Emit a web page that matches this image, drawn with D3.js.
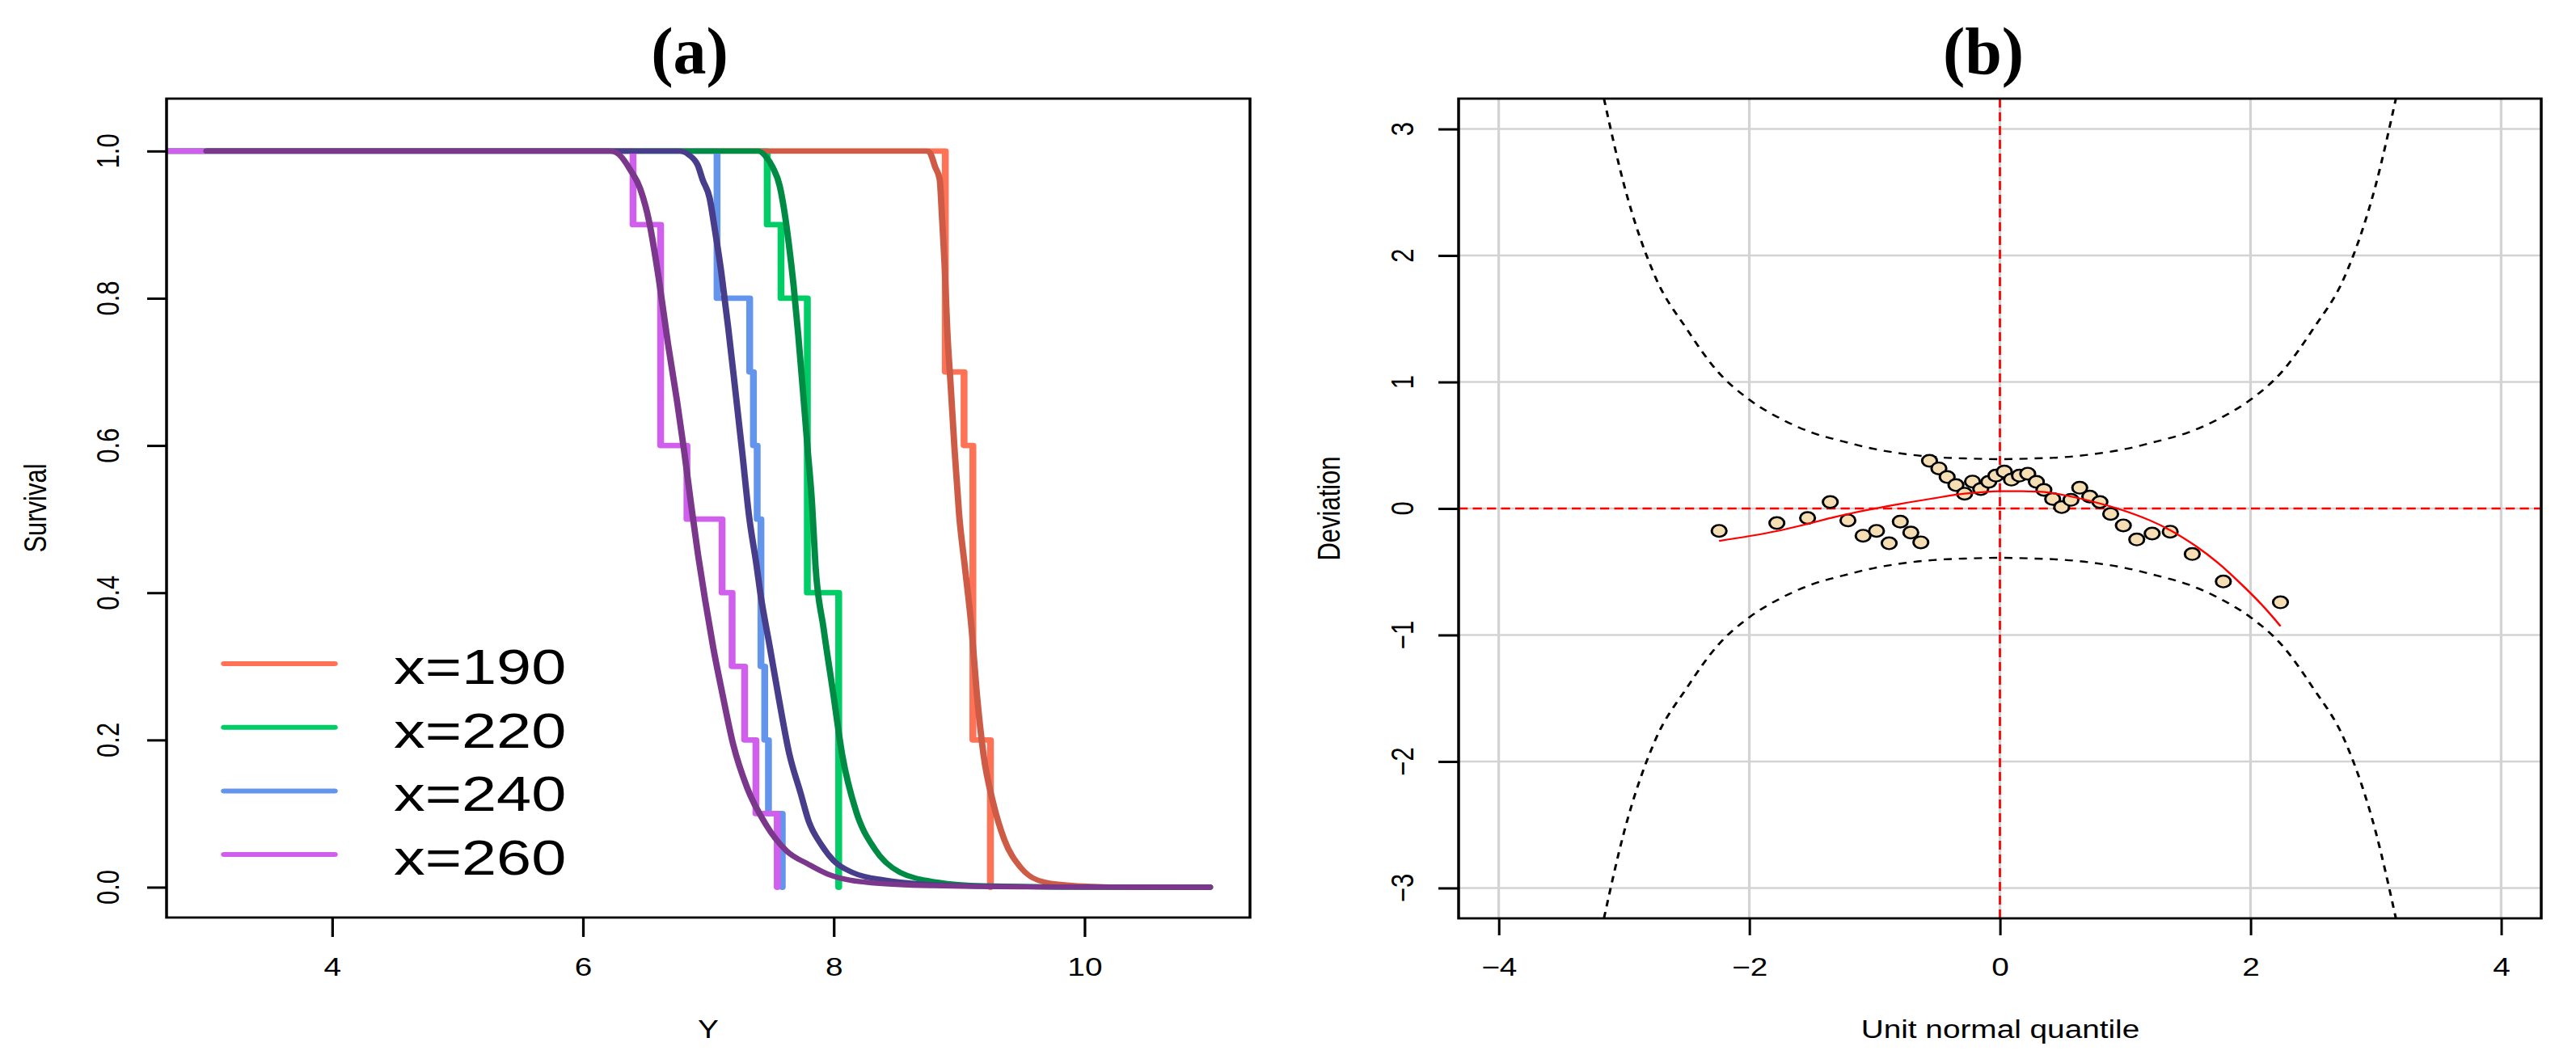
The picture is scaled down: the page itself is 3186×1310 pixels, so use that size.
<!DOCTYPE html>
<html><head><meta charset="utf-8">
<script src="https://cdn.jsdelivr.net/npm/d3@7/dist/d3.min.js"></script>
<style>html,body{margin:0;padding:0;background:#fff;}svg{display:block;}</style>
</head><body>
<script>
// ---------------- Panel (a) data ----------------
const groupLabels = ["x=190", "x=220", "x=240", "x=260"];
const stepColors = ["#FF7256", "#00CD66", "#6495ED", "#D15FEE"];
const fitColors  = ["#CD5B45", "#008B45", "#483D8B", "#7A378B"];
const kmStart = 0;
const kmTime190 = [8.89, 9.04, 9.11, 9.25];
const kmSurv190 = [0.7, 0.6, 0.2, 0.0];
const kmTime220 = [7.47, 7.58, 7.79, 8.04];
const kmSurv220 = [0.9, 0.8, 0.4, 0.0];
const kmTime240 = [7.07, 7.33, 7.36, 7.39, 7.42, 7.45, 7.48, 7.59];
const kmSurv240 = [0.8, 0.7, 0.6, 0.5, 0.3, 0.2, 0.1, 0.0];
const kmTime260 = [6.40, 6.62, 6.83, 7.11, 7.19, 7.29, 7.38, 7.55];
const kmSurv260 = [0.9, 0.6, 0.5, 0.4, 0.3, 0.2, 0.1, 0.0];

const fitY190 = [3.0, 8.75, 8.77, 8.81, 8.845, 8.865, 8.885, 8.905, 8.935, 8.965, 9.0, 9.045, 9.1, 9.14, 9.195, 9.27, 9.36, 9.49, 9.68, 9.94, 10.3, 11.0];
const fitS190 = [1, 1, 0.997, 0.978, 0.962, 0.907, 0.844, 0.76, 0.676, 0.592, 0.507, 0.437, 0.351, 0.266, 0.18, 0.116, 0.065, 0.027, 0.007, 0.002, 0.0003, 0];
const fitY220 = [3.0, 7.40, 7.457, 7.514, 7.569, 7.606, 7.643, 7.68, 7.717, 7.754, 7.79, 7.828, 7.855, 7.92, 7.994, 8.068, 8.179, 8.327, 8.53, 8.826, 9.196, 10.0, 11.0];
const fitS220 = [1, 1, 0.993, 0.978, 0.953, 0.919, 0.873, 0.818, 0.751, 0.676, 0.600, 0.52, 0.437, 0.351, 0.266, 0.180, 0.103, 0.052, 0.020, 0.007, 0.002, 0.0002, 0];
const fitY240 = [3.0, 6.77, 6.844, 6.918, 6.955, 7.011, 7.048, 7.104, 7.159, 7.215, 7.27, 7.326, 7.385, 7.414, 7.489, 7.564, 7.645, 7.736, 7.80, 7.9, 8.0, 8.15, 8.4, 9.0, 10.0, 11.0];
const fitS240 = [1, 1, 0.995, 0.980, 0.961, 0.936, 0.898, 0.835, 0.760, 0.676, 0.592, 0.503, 0.437, 0.401, 0.328, 0.255, 0.182, 0.128, 0.09, 0.058, 0.036, 0.02, 0.01, 0.002, 0.0002, 0];
const fitY260 = [3.0, 6.22, 6.29, 6.38, 6.457, 6.53, 6.605, 6.678, 6.752, 6.808, 6.863, 6.918, 6.975, 7.04, 7.11, 7.2, 7.31, 7.46, 7.62, 7.8, 7.95, 8.3, 8.8, 9.5, 11.0];
const fitS260 = [1, 1, 0.995, 0.974, 0.949, 0.903, 0.827, 0.739, 0.659, 0.592, 0.52, 0.452, 0.39, 0.325, 0.265, 0.193, 0.135, 0.085, 0.05, 0.031, 0.018, 0.006, 0.002, 0.0005, 0];

const survTicks = [0, 0.2, 0.4, 0.6, 0.8, 1.0];
const yTicks = [4, 6, 8, 10];

// ---------------- Panel (b) data ----------------
const qqX = [-2.241,-1.780,-1.535,-1.354,-1.213,-1.092,-0.985,-0.884,-0.795,-0.711,-0.631,-0.562,-0.487,-0.421,-0.351,-0.282,-0.219,-0.153,-0.089,-0.032,0.035,0.092,0.156,0.222,0.291,0.351,0.421,0.493,0.567,0.637,0.717,0.798,0.884,0.985,1.092,1.215,1.359,1.535,1.783,2.239];
const qqDev = [-0.177,-0.115,-0.075,0.051,-0.094,-0.215,-0.177,-0.275,-0.104,-0.190,-0.268,0.377,0.317,0.249,0.185,0.117,0.213,0.153,0.211,0.260,0.292,0.228,0.260,0.275,0.211,0.147,0.075,0.011,0.068,0.164,0.094,0.051,-0.043,-0.134,-0.245,-0.198,-0.183,-0.360,-0.577,-0.742];
const fitQ = [-2.241,-2.005,-1.774,-1.544,-1.313,-1.025,-0.795,-0.536,-0.334,-0.104,0,0.184,0.357,0.530,0.760,0.962,1.192,1.365,1.567,1.740,1.912,2.108,2.239];
const fitDev = [-0.256,-0.219,-0.177,-0.124,-0.066,-0.006,0.036,0.079,0.111,0.132,0.136,0.136,0.130,0.102,0.050,-0.008,-0.092,-0.175,-0.300,-0.430,-0.585,-0.780,-0.930];
const bandQ = [-3.16,-3.0,-2.75,-2.5,-2.25,-2.0,-1.75,-1.5,-1.25,-1.0,-0.75,-0.5,-0.25,0,0.25,0.5,0.75,1.0,1.25,1.5,1.75,2.0,2.25,2.5,2.75,3.0,3.16];
const bandUpper = [3.24,2.56,1.83,1.42,1.08,0.86,0.71,0.60,0.53,0.47,0.43,0.405,0.395,0.39,0.395,0.405,0.43,0.47,0.53,0.60,0.71,0.86,1.08,1.42,1.83,2.56,3.24];
const bandLower = [-3.24,-2.56,-1.83,-1.42,-1.08,-0.86,-0.71,-0.60,-0.53,-0.47,-0.43,-0.405,-0.395,-0.39,-0.395,-0.405,-0.43,-0.47,-0.53,-0.60,-0.71,-0.86,-1.08,-1.42,-1.83,-2.56,-3.24];
const qTicks = [-4, -2, 0, 2, 4];
const devTicks = [-3, -2, -1, 0, 1, 2, 3];

// ---------------- Drawing ----------------
const W = 3186, H = 1310;
const SX = 1.25;               // horizontal stretch of the original figure
const v = px => px / SX;
const FONT = "'Liberation Sans', Arial, Helvetica, sans-serif";

const svg = d3.select("body").append("svg").attr("width", W).attr("height", H);
svg.append("rect").attr("width", W).attr("height", H).attr("fill", "#fff");

svg.append("text").attr("x", 853).attr("y", 91).attr("text-anchor", "middle")
  .attr("font-family", "'Liberation Serif', 'DejaVu Serif', serif").attr("font-weight", "bold")
  .attr("font-size", 82).text("(a)");
svg.append("text").attr("x", 2453).attr("y", 91).attr("text-anchor", "middle")
  .attr("font-family", "'Liberation Serif', 'DejaVu Serif', serif").attr("font-weight", "bold")
  .attr("font-size", 82).text("(b)");

const g = svg.append("g").attr("transform", `scale(${SX},1)`);
const defs = svg.append("defs");

// ===== Panel (a) =====
const A = {l: 206, r: 1546, t: 122, b: 1135};
const xA = d3.scaleLinear().domain([2.68, 11.32]).range([v(A.l), v(A.r)]);
const yA = d3.scaleLinear().domain([-0.0412, 1.0712]).range([A.b, A.t]);

defs.append("clipPath").attr("id", "clipA").append("rect")
  .attr("x", v(A.l)).attr("y", A.t).attr("width", v(A.r) - v(A.l)).attr("height", A.b - A.t);

const kmTimes = [kmTime190, kmTime220, kmTime240, kmTime260];
const kmSurvs = [kmSurv190, kmSurv220, kmSurv240, kmSurv260];
const fitYs = [fitY190, fitY220, fitY240, fitY260];
const fitSs = [fitS190, fitS220, fitS240, fitS260];

const plotA = g.append("g").attr("clip-path", "url(#clipA)");
const stepLine = d3.line().x(d => xA(d[0])).y(d => yA(d[1])).curve(d3.curveStepAfter);
const smoothLine = d3.line().x(d => xA(d[0])).y(d => yA(d[1])).curve(d3.curveMonotoneX);

kmTimes.forEach((times, i) => {
  const pts = [[kmStart, 1]].concat(times.map((t, j) => [t, kmSurvs[i][j]]));
  plotA.append("path").attr("d", stepLine(pts)).attr("fill", "none")
    .attr("stroke", stepColors[i]).attr("stroke-width", 6.8)
    .attr("stroke-linecap", "round").attr("stroke-linejoin", "round");
});
fitYs.forEach((ys, i) => {
  const pts = ys.map((y, j) => [y, fitSs[i][j]]);
  plotA.append("path").attr("d", smoothLine(pts)).attr("fill", "none")
    .attr("stroke", fitColors[i]).attr("stroke-width", 6.3)
    .attr("stroke-linecap", "round").attr("stroke-linejoin", "round");
});

// legend
groupLabels.forEach((lab, i) => {
  const yy = 821 + i * 78.7;
  g.append("line").attr("x1", v(277)).attr("x2", v(414)).attr("y1", yy).attr("y2", yy)
    .attr("stroke", stepColors[i]).attr("stroke-width", 6).attr("stroke-linecap", "round");
  g.append("text").attr("x", v(487)).attr("y", yy + 25).attr("font-family", FONT)
    .attr("font-size", 62).attr("fill", "#000").text(lab);
});

// axes (a)
const axAx = g.append("g").attr("transform", `translate(0,${A.b})`)
  .call(d3.axisBottom(xA).tickValues(yTicks).tickSize(24).tickFormat(d3.format("d")));
axAx.select(".domain").remove();
axAx.selectAll("line").attr("stroke", "#000").attr("stroke-width", 2.6);
axAx.selectAll("text").attr("y", 72).attr("dy", null).attr("fill", "#000")
  .attr("font-size", 31).attr("font-family", FONT);

const axAy = g.append("g").attr("transform", `translate(${v(A.l)},0)`)
  .call(d3.axisLeft(yA).tickValues(survTicks).tickSize(v(24)).tickFormat(""));
axAy.select(".domain").remove();
axAy.selectAll("line").attr("stroke", "#000").attr("stroke-width", 3);
survTicks.forEach(t => {
  g.append("text").attr("transform", `translate(${v(147)},${yA(t)}) rotate(-90)`)
    .attr("text-anchor", "middle").attr("font-family", FONT).attr("font-size", 31)
    .text(d3.format(".1f")(t));
});
g.append("text").attr("x", v(876)).attr("y", 1284).attr("text-anchor", "middle")
  .attr("font-family", FONT).attr("font-size", 31).text("Y");
g.append("text").attr("transform", `translate(${v(57)},${(A.t + A.b) / 2}) rotate(-90)`)
  .attr("text-anchor", "middle").attr("font-family", FONT).attr("font-size", 31).text("Survival");

g.append("rect").attr("x", v(A.l)).attr("y", A.t).attr("width", v(A.r) - v(A.l)).attr("height", A.b - A.t)
  .attr("fill", "none").attr("stroke", "#000").attr("stroke-width", 2.8);

// ===== Panel (b) =====
const B = {l: 1804, r: 3143, t: 122, b: 1136};
const xB = d3.scaleLinear().domain([-4.32, 4.32]).range([v(B.l), v(B.r)]);
const yB = d3.scaleLinear().domain([-3.24, 3.24]).range([B.b, B.t]);

defs.append("clipPath").attr("id", "clipB").append("rect")
  .attr("x", v(B.l)).attr("y", B.t).attr("width", v(B.r) - v(B.l)).attr("height", B.b - B.t);
const plotB = g.append("g").attr("clip-path", "url(#clipB)");

qTicks.forEach(q => plotB.append("line").attr("x1", xB(q)).attr("x2", xB(q))
  .attr("y1", B.t).attr("y2", B.b).attr("stroke", "#D3D3D3").attr("stroke-width", 2.6));
devTicks.forEach(d => plotB.append("line").attr("x1", v(B.l)).attr("x2", v(B.r))
  .attr("y1", yB(d)).attr("y2", yB(d)).attr("stroke", "#D3D3D3").attr("stroke-width", 2.4));

plotB.append("line").attr("x1", xB(0)).attr("x2", xB(0)).attr("y1", B.t).attr("y2", B.b)
  .attr("stroke", "#FF0000").attr("stroke-width", 2.2).attr("stroke-dasharray", "11,6");
plotB.append("line").attr("x1", v(B.l)).attr("x2", v(B.r)).attr("y1", yB(0)).attr("y2", yB(0))
  .attr("stroke", "#FF0000").attr("stroke-width", 2.4).attr("stroke-dasharray", "9,5");

const bLine = d3.line().x(d => xB(d[0])).y(d => yB(d[1])).curve(d3.curveMonotoneX);
[bandUpper, bandLower].forEach(band => {
  plotB.append("path").attr("d", bLine(bandQ.map((q, i) => [q, band[i]])))
    .attr("fill", "none").attr("stroke", "#000").attr("stroke-width", 2.4)
    .attr("stroke-dasharray", "8,7");
});

plotB.selectAll("circle.pt").data(qqX.map((q, i) => [q, qqDev[i]])).enter()
  .append("circle").attr("class", "pt")
  .attr("cx", d => xB(d[0])).attr("cy", d => yB(d[1])).attr("r", 7.3)
  .attr("fill", "#F5DEB3").attr("stroke", "#000").attr("stroke-width", 2.4);

plotB.append("path").attr("d", d3.line().x(d => xB(d[0])).y(d => yB(d[1])).curve(d3.curveCatmullRom)(fitQ.map((q, i) => [q, fitDev[i]])))
  .attr("fill", "none").attr("stroke", "#FF0000").attr("stroke-width", 2.2);

const axBx = g.append("g").attr("transform", `translate(0,${B.b})`)
  .call(d3.axisBottom(xB).tickValues(qTicks).tickSize(21).tickFormat(d3.format("d")));
axBx.select(".domain").remove();
axBx.selectAll("line").attr("stroke", "#000").attr("stroke-width", 2.4);
axBx.selectAll("text").attr("y", 71).attr("dy", null).attr("fill", "#000")
  .attr("font-size", 31).attr("font-family", FONT);

const axBy = g.append("g").attr("transform", `translate(${v(B.l)},0)`)
  .call(d3.axisLeft(yB).tickValues(devTicks).tickSize(v(25)).tickFormat(""));
axBy.select(".domain").remove();
axBy.selectAll("line").attr("stroke", "#000").attr("stroke-width", 3);
devTicks.forEach(t => {
  g.append("text").attr("transform", `translate(${v(1748)},${yB(t)}) rotate(-90)`)
    .attr("text-anchor", "middle").attr("font-family", FONT).attr("font-size", 31)
    .text(d3.format("d")(t));
});
g.append("text").attr("x", v(2474)).attr("y", 1284).attr("text-anchor", "middle")
  .attr("font-family", FONT).attr("font-size", 31).text("Unit normal quantile");
g.append("text").attr("transform", `translate(${v(1657)},${(B.t + B.b) / 2}) rotate(-90)`)
  .attr("text-anchor", "middle").attr("font-family", FONT).attr("font-size", 31).text("Deviation");

g.append("rect").attr("x", v(B.l)).attr("y", B.t).attr("width", v(B.r) - v(B.l)).attr("height", B.b - B.t)
  .attr("fill", "none").attr("stroke", "#000").attr("stroke-width", 2.8);
</script>
</body></html>
